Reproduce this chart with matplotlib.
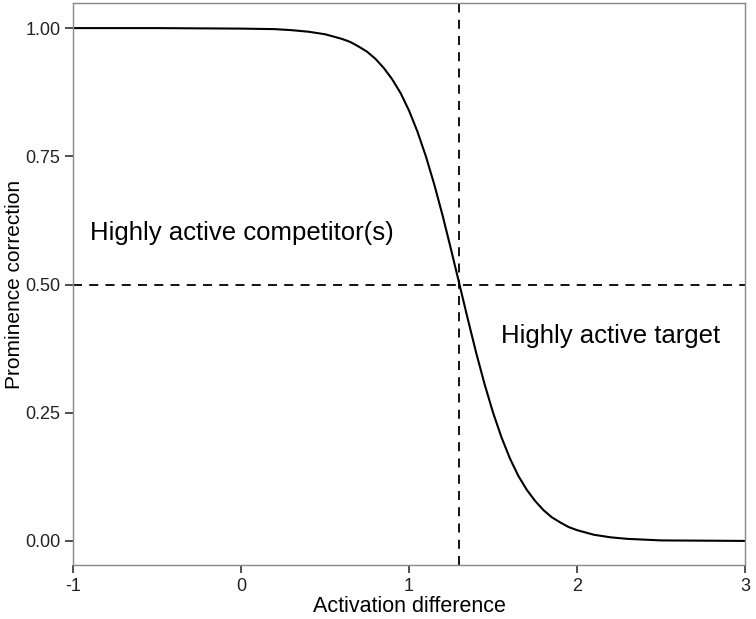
import matplotlib
matplotlib.use("Agg")
import matplotlib.pyplot as plt

# values
activation_diff = [-1.0, -0.5, 0.0, 0.2, 0.3, 0.4, 0.5, 0.6, 0.65, 0.7, 0.75, 0.8, 0.85,
                   0.9, 0.95, 1.0, 1.05, 1.1, 1.15, 1.2, 1.25, 1.3, 1.35, 1.4, 1.45,
                   1.5, 1.55, 1.6, 1.65, 1.7, 1.75, 1.8, 1.85, 1.9, 1.95, 2.0, 2.1,
                   2.2, 2.3, 2.5, 3.0]
prominence = [1.000, 1.000, 0.999, 0.998, 0.996, 0.993, 0.988, 0.979, 0.973, 0.964, 0.954,
              0.940, 0.922, 0.900, 0.873, 0.839, 0.798, 0.750, 0.695, 0.634, 0.568, 0.500,
              0.432, 0.366, 0.305, 0.250, 0.202, 0.161, 0.127, 0.100, 0.078, 0.060, 0.046,
              0.036, 0.027, 0.021, 0.012, 0.007, 0.004, 0.001, 0.000]

threshold_x = 1.3
threshold_y = 0.5
x_ticks = [-1, 0, 1, 2, 3]
y_ticks = [0.00, 0.25, 0.50, 0.75, 1.00]

plt.rcParams['font.family'] = ['Liberation Sans', 'DejaVu Sans']

fig = plt.figure(figsize=(7.56, 6.19), dpi=100)
ax = fig.add_axes([0.0966, 0.0872, 0.889, 0.908])

ax.plot(activation_diff, prominence, color='black', lw=1.5)
ax.axvline(threshold_x, color='black', lw=1.3, ls=(0, (5, 4)))
ax.axhline(threshold_y, color='black', lw=1.3, ls=(0, (5, 4)))

ax.text(-0.9, 0.6, "Highly active competitor(s)", fontsize=18.5, va='center', ha='left')
ax.text(1.55, 0.4, "Highly active target", fontsize=18.5, va='center', ha='left')

ax.set_xlim(-1, 3)
ax.set_ylim(-0.047, 1.049)
ax.set_xticks(x_ticks)
ax.set_xticklabels([str(t) for t in x_ticks])
ax.set_yticks(y_ticks)
ax.set_yticklabels(["%.2f" % t for t in y_ticks])
ax.tick_params(labelsize=13, length=6, width=1.2, color='#333333', labelcolor='#222222', pad=3)

for s in ax.spines.values():
    s.set_color('#888888')
    s.set_linewidth(1.0)

ax.set_xlabel("Activation difference", fontsize=15.5, labelpad=1)
ax.set_ylabel("Prominence correction", fontsize=15, labelpad=1)

plt.savefig("out.png", dpi=100)
